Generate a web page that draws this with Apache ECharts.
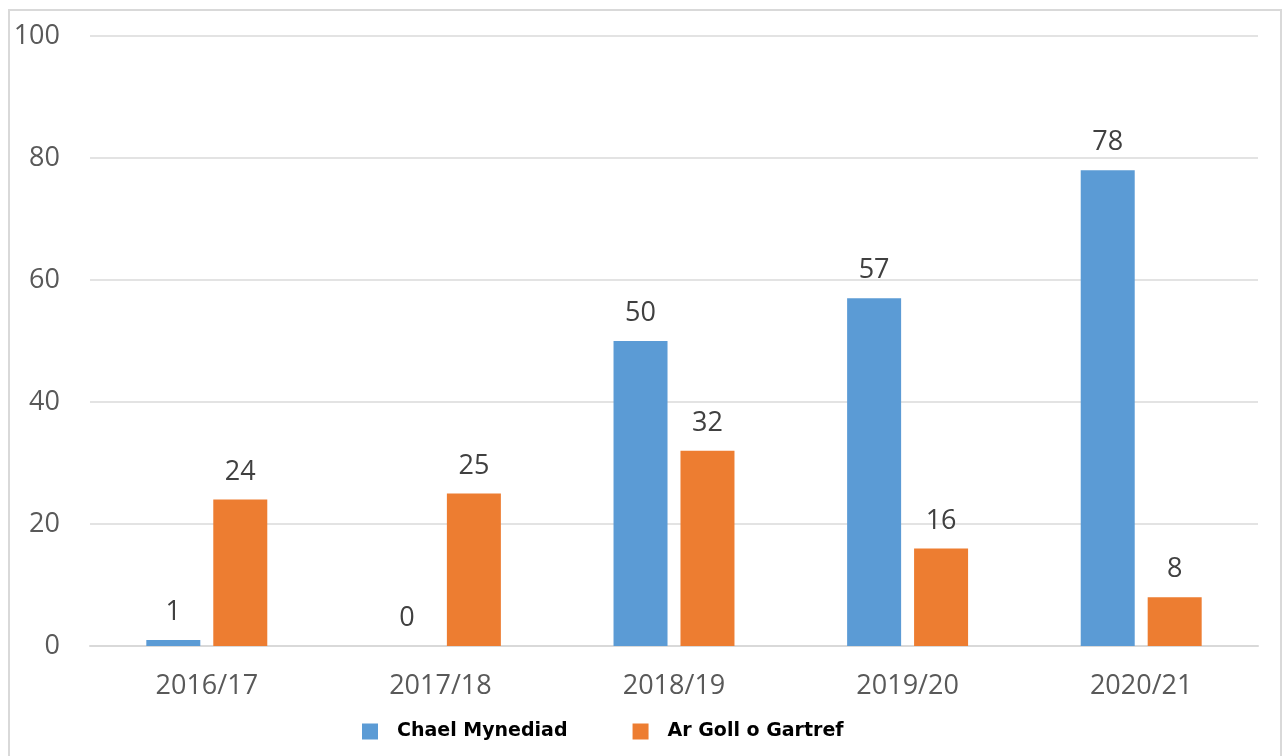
<!DOCTYPE html>
<html>
<head>
<meta charset="utf-8">
<script src="https://cdn.jsdelivr.net/npm/echarts@6/dist/echarts.min.js"></script>
<style>
  body { margin: 0; background: #fff; }
  #chart { width: 1285px; height: 756px; }
  .frame {
    position: absolute; left: 8px; top: 9px; width: 1274px; height: 760px;
    border: 2px solid #d9d9d9; box-sizing: border-box; pointer-events: none;
  }
</style>
</head>
<body>
<div id="chart"></div>
<div class="frame"></div>
<script>
// 年份
var years = ["2016/17", "2017/18", "2018/19", "2019/20", "2020/21"];
// Chael Mynediad
var mynediad = [1, 0, 50, 57, 78];
// Ar Goll o Gartref
var arGoll = [24, 25, 32, 16, 8];
var yTicks = [0, 20, 40, 60, 80, 100];

var myChart = echarts.init(document.getElementById("chart"));
var labelStyle = {
  show: true,
  position: "top",
  distance: 14,
  color: "#404040",
  fontSize: 27,
  fontFamily: "Open Sans",
};
myChart.setOption({
  animation: false,
  grid: { left: 90, right: 27, top: 36, bottom: 110 },
  legend: {
    data: ["Chael Mynediad", "Ar Goll o Gartref"],
    bottom: 10,
    left: 357,
    itemWidth: 16,
    itemHeight: 16,
    itemGap: 65,
    icon: "rect",
    textStyle: {
      fontSize: 19,
      fontWeight: "bold",
      fontFamily: "DejaVu Sans",
      color: "#000",
      padding: [0, 0, 0, 14],
    },
  },
  xAxis: {
    type: "category",
    data: years,
    axisTick: { show: false },
    axisLine: { lineStyle: { color: "#d9d9d9", width: 2 } },
    axisLabel: { fontSize: 27, color: "#595959", margin: 27, fontFamily: "Open Sans" },
  },
  yAxis: {
    type: "value",
    min: yTicks[0],
    max: yTicks[yTicks.length - 1],
    interval: 20,
    axisLabel: { fontSize: 27, color: "#595959", margin: 30, fontFamily: "Open Sans" },
    splitLine: { lineStyle: { color: "#e3e3e3", width: 2 } },
  },
  series: [
    {
      name: "Chael Mynediad",
      type: "bar",
      barWidth: 54,
      barGap: "24%",
      itemStyle: { color: "#5b9bd5" },
      label: labelStyle,
      data: mynediad,
    },
    {
      name: "Ar Goll o Gartref",
      type: "bar",
      barWidth: 54,
      itemStyle: { color: "#ed7d31" },
      label: labelStyle,
      data: arGoll,
    },
  ],
});
</script>
</body>
</html>
